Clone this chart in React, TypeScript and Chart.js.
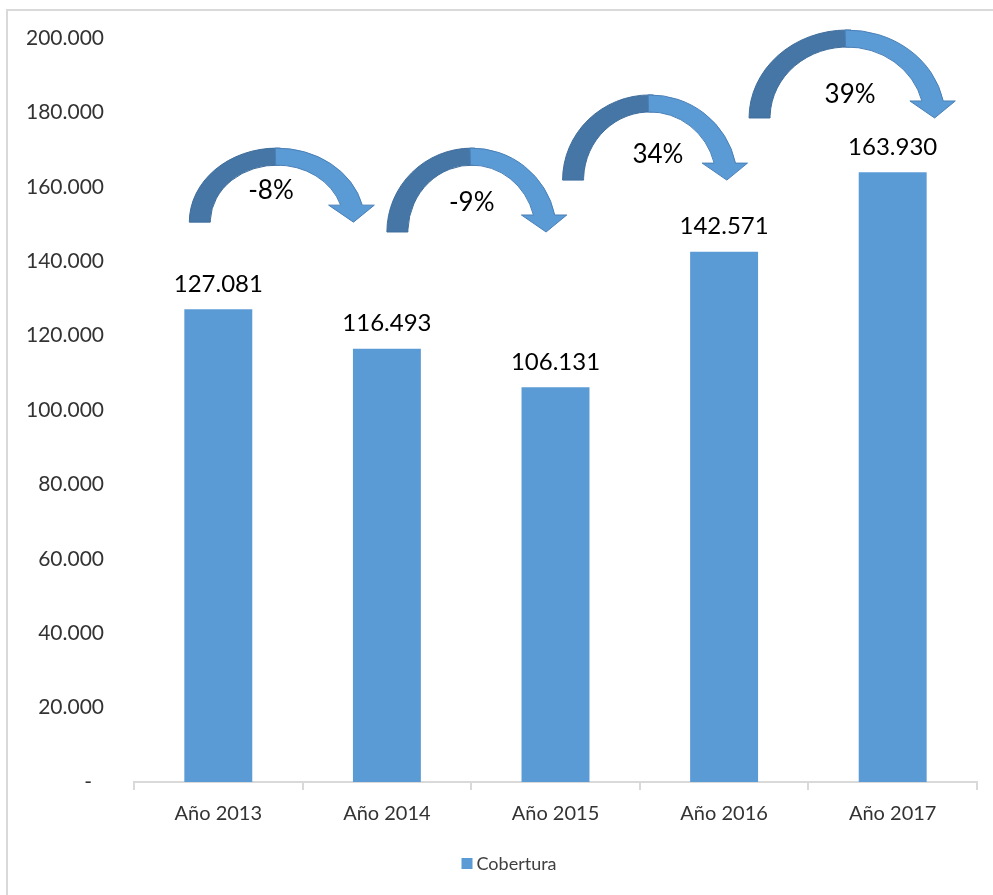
import React, { useEffect, useRef } from "react";
import { Chart, registerables } from "chart.js";

Chart.register(...registerables);

// ---- data ----
const categories = ["Año 2013", "Año 2014", "Año 2015", "Año 2016", "Año 2017"];
const cobertura = [127081, 116493, 106131, 142571, 163930];
const variacion = ["-8%", "-9%", "34%", "39%"];
const seriesName = "Cobertura";
const yMin = 0;
const yMax = 200000;
const yStep = 20000;

// ---- arrow layout (category units / axis values) ----
const arrowStart = [-0.172, 0.0, 0.042, 0.148];
const arrowSpan = [1.04, 1.006, 1.036, 1.163];
const arrowBase = [150500, 147850, 161800, 178500];
const arrowTop = [170400, 170400, 184700, 202150];
const arrowTextDx = [-6, 0, 8, 3];
const arrowTextDy = [-32, -29, -25, -23];

const FONT = "Lato";

function fmt(n: number): string {
  if (n === 0) return "-  \u200A";
  return String(Math.round(n)).replace(/\B(?=(\d{3})+(?!\d))/g, ".");
}

const framePlugin = {
  id: "frame",
  beforeDraw(chart: any) {
    const { ctx, width, height } = chart;
    ctx.save();
    ctx.fillStyle = "#ffffff";
    ctx.fillRect(0, 0, width, height);
    ctx.strokeStyle = "#d9d9d9";
    ctx.lineWidth = 2;
    ctx.beginPath();
    ctx.moveTo(7, height + 5);
    ctx.lineTo(7, 10);
    ctx.lineTo(width + 5, 10);
    ctx.stroke();
    ctx.restore();
  },
  afterDraw(chart: any) {
    // legend
    const { ctx, width } = chart;
    ctx.save();
    ctx.font = `18px ${FONT}`;
    const x0 = width / 2 - 35;
    const yc = 864;
    ctx.fillStyle = "#5b9bd5";
    ctx.fillRect(x0, yc - 6, 11, 11);
    ctx.fillStyle = "#404040";
    ctx.textAlign = "left";
    ctx.textBaseline = "middle";
    ctx.fillText(seriesName, x0 + 15, yc);
    ctx.restore();
  },
};

const labelPlugin = {
  id: "valueLabels",
  afterDatasetsDraw(chart: any) {
    const { ctx } = chart;
    const meta = chart.getDatasetMeta(0);
    ctx.save();
    ctx.font = `24px ${FONT}`;
    ctx.fillStyle = "#000000";
    ctx.textAlign = "center";
    ctx.textBaseline = "middle";
    meta.data.forEach((bar: any, i: number) => {
      ctx.fillText(fmt(cobertura[i]), bar.x, bar.y - 25);
    });
    ctx.restore();
  },
};

const arrowPlugin = {
  id: "arrows",
  afterDatasetsDraw(chart: any) {
    const { ctx } = chart;
    const x = chart.scales.x;
    const y = chart.scales.y;
    const catW = x.getPixelForValue(1) - x.getPixelForValue(0);
    const thickX = 21;
    const thickY = 17;
    const headH = 17;
    const wing = 12;
    ctx.save();
    variacion.forEach((txt, i) => {
      const left = x.getPixelForValue(i) + arrowStart[i] * catW;
      const rxO = (arrowSpan[i] * catW) / 2;
      const cx = left + rxO;
      const base = y.getPixelForValue(arrowBase[i]);
      const ryO = base - y.getPixelForValue(arrowTop[i]);
      const rxI = rxO - thickX;
      const ryI = ryO - thickY;
      const apex = 1.5 * Math.PI;

      // left (shaded) half
      ctx.beginPath();
      ctx.ellipse(cx, base, rxO, ryO, 0, Math.PI, apex + 0.04, false);
      ctx.ellipse(cx, base, rxI, ryI, 0, apex + 0.04, Math.PI, true);
      ctx.closePath();
      ctx.fillStyle = "#4676a6";
      ctx.fill();
      ctx.strokeStyle = "#3e6d9c";
      ctx.lineWidth = 1;
      ctx.stroke();

      // right (light) half with arrow head
      const tO = 2 * Math.PI - Math.asin(headH / ryO);
      const tI = 2 * Math.PI - Math.asin(headH / ryI);
      const pOx = cx + rxO * Math.cos(tO);
      const pIx = cx + rxI * Math.cos(tI);
      const yH = base - headH;
      ctx.beginPath();
      ctx.ellipse(cx, base, rxO, ryO, 0, apex - 0.02, tO, false);
      ctx.lineTo(pOx + wing, yH);
      ctx.lineTo((pOx + pIx) / 2 + 2, base);
      ctx.lineTo(pIx - wing, yH);
      ctx.lineTo(pIx, yH);
      ctx.ellipse(cx, base, rxI, ryI, 0, tI, apex - 0.02, true);
      ctx.closePath();
      ctx.fillStyle = "#5b9bd5";
      ctx.fill();
      ctx.strokeStyle = "#4a80b8";
      ctx.stroke();

      // percentage text
      ctx.font = `26px ${FONT}`;
      ctx.fillStyle = "#000000";
      ctx.textAlign = "center";
      ctx.textBaseline = "middle";
      ctx.fillText(txt, cx + arrowTextDx[i], base + arrowTextDy[i]);
    });
    ctx.restore();
  },
};

export default function App() {
  const ref = useRef<HTMLCanvasElement>(null);

  useEffect(() => {
    if (!ref.current) return;
    const chart = new Chart(ref.current, {
      type: "bar",
      data: {
        labels: categories,
        datasets: [
          {
            label: seriesName,
            data: cobertura,
            backgroundColor: "#5b9bd5",
            borderWidth: 0,
            categoryPercentage: 1,
            barPercentage: 0.403,
          },
        ],
      },
      options: {
        animation: false,
        responsive: false,
        maintainAspectRatio: false,
        layout: { padding: { top: 38, right: 16, left: 0, bottom: 50 } },
        plugins: {
          tooltip: { enabled: false },
          legend: { display: false },
        },
        scales: {
          x: {
            offset: true,
            grid: {
              display: true,
              drawOnChartArea: false,
              drawTicks: true,
              tickLength: 8,
              color: "#d9d9d9",
              lineWidth: 2,
              offset: true,
            },
            border: { display: true, color: "#d9d9d9", width: 2 },
            ticks: {
              color: "#333333",
              padding: 12,
              font: { family: FONT, size: 20 },
              maxRotation: 0,
              autoSkip: false,
            },
            afterFit(scale: any) {
              scale.height = 63;
              scale.paddingLeft = 0;
              scale.paddingRight = 0;
            },
          },
          y: {
            min: yMin,
            max: yMax,
            grid: { display: false, drawTicks: false },
            border: { display: false },
            ticks: {
              stepSize: yStep,
              padding: 30,
              color: "#333333",
              font: { family: FONT, size: 21 },
              callback: (v: any) => fmt(Number(v)),
            },
            afterFit(scale: any) {
              scale.width = 134;
              scale.paddingTop = 0;
              scale.paddingBottom = 0;
            },
          },
        },
      },
      plugins: [framePlugin, labelPlugin, arrowPlugin],
    });
    return () => chart.destroy();
  }, []);

  return (
    <div style={{ position: "absolute", left: 0, top: 0, width: 993, height: 895 }}>
      <canvas ref={ref} width={993} height={895} style={{ display: "block" }} />
    </div>
  );
}
